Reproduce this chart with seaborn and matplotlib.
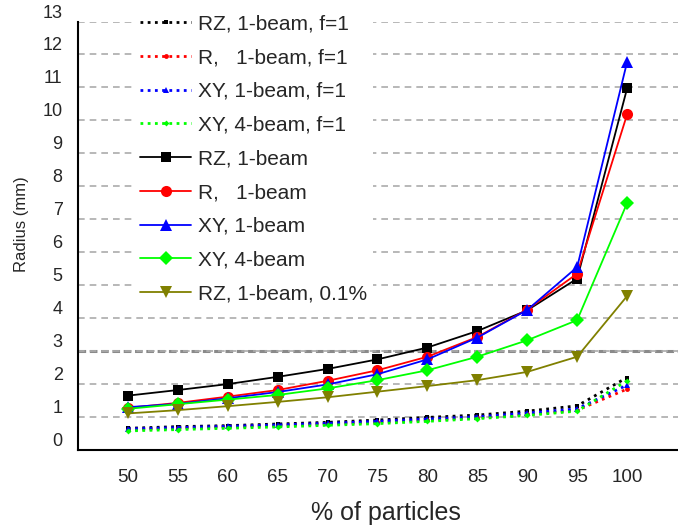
import numpy as np
import matplotlib

matplotlib.use("Agg")
import matplotlib.pyplot as plt
from matplotlib.ticker import MultipleLocator
import seaborn as sns

# values
pct = [50, 55, 60, 65, 70, 75, 80, 85, 90, 95, 100]

rz_f1 = [0.66, 0.71, 0.74, 0.79, 0.84, 0.91, 0.99, 1.06, 1.18, 1.34, 2.20]
r_f1 = [0.62, 0.66, 0.70, 0.74, 0.79, 0.84, 0.91, 0.98, 1.08, 1.21, 1.85]
xy_f1 = [0.64, 0.68, 0.72, 0.76, 0.81, 0.87, 0.94, 1.01, 1.12, 1.25, 1.97]
xy4_f1 = [0.58, 0.62, 0.66, 0.70, 0.75, 0.80, 0.87, 0.95, 1.05, 1.18, 2.10]

rz = [1.65, 1.82, 2.00, 2.22, 2.46, 2.75, 3.11, 3.61, 4.24, 5.20, 10.97]
r = [1.28, 1.43, 1.62, 1.82, 2.10, 2.42, 2.83, 3.43, 4.26, 5.35, 10.18]
xy = [1.30, 1.40, 1.57, 1.76, 1.99, 2.30, 2.75, 3.41, 4.25, 5.55, 11.77]
xy4 = [1.25, 1.39, 1.53, 1.67, 1.87, 2.12, 2.42, 2.83, 3.33, 3.94, 7.49]
rz01 = [1.11, 1.21, 1.33, 1.46, 1.60, 1.77, 1.94, 2.12, 2.37, 2.83, 4.67]

labels = [
    "RZ, 1-beam, f=1",
    "R,   1-beam, f=1",
    "XY, 1-beam, f=1",
    "XY, 4-beam, f=1",
    "RZ, 1-beam",
    "R,   1-beam",
    "XY, 1-beam",
    "XY, 4-beam",
    "RZ, 1-beam, 0.1%",
]

sns.set_style("white")
plt.rcParams["font.family"] = ["Liberation Sans", "DejaVu Sans"]

fig = plt.figure(figsize=(6.78, 5.31), dpi=100)
ax = fig.add_axes([0.115, 0.1525, 0.885, 0.8070])

dotted = (0, (1, 1.6))
series = [
    (rz_f1, "black", "s", 3.5, dotted, 2.0),
    (r_f1, "#ff0000", "o", 3.5, dotted, 2.0),
    (xy_f1, "#0000ff", "^", 4.0, dotted, 2.0),
    (xy4_f1, "#00ff00", "D", 3.0, dotted, 2.0),
    (rz, "black", "s", 7.0, "-", 1.3),
    (r, "#ff0000", "o", 8.0, "-", 1.3),
    (xy, "#0000ff", "^", 8.5, "-", 1.3),
    (xy4, "#00ff00", "D", 7.0, "-", 1.3),
    (rz01, "#808000", "v", 9.0, "-", 1.3),
]

for (vals, col, mk, ms, ls, lw), lab in zip(series, labels):
    sns.lineplot(
        x=pct, y=vals, ax=ax, color=col, marker=mk, markersize=ms,
        markeredgecolor=col, markeredgewidth=0, linestyle=ls,
        linewidth=lw, label=lab,
    )

ax.set_xlim(45, 105.1)
ax.set_ylim(0, 13)
ax.yaxis.set_major_locator(MultipleLocator(1))
ax.set_xticks(pct)
ax.set_xticks(np.arange(47.5, 105.1, 2.5), minor=True)

ax.set_axisbelow(True)
ax.yaxis.grid(True, color="#ababab", linestyle=(0, (4, 3)), linewidth=1.2)
ax.axhline(3, color="#8a8a8a", linestyle=(0, (2.5, 1.2)), linewidth=2.2, zorder=0.5)

for side in ["top", "right"]:
    ax.spines[side].set_visible(False)
for side in ["left", "bottom"]:
    ax.spines[side].set_linewidth(1.5)
    ax.spines[side].set_color("black")

ax.tick_params(axis="both", which="both", direction="in", color="black", width=1.2)
ax.tick_params(axis="y", which="major", length=6.5, pad=11, labelsize=13)
ax.tick_params(axis="x", which="major", length=6.5, pad=14, labelsize=13.5)
ax.tick_params(axis="x", which="minor", length=3.5)
for t in ax.get_yticklabels():
    t.set_verticalalignment("bottom")

ax.set_xlabel("% of particles", fontsize=18)
ax.xaxis.set_label_coords(0.513, -0.12)
ax.set_ylabel("Radius (mm)", fontsize=12)
ax.yaxis.set_label_coords(-0.082, 0.527)

leg = ax.legend(
    loc="upper left", bbox_to_anchor=(0.1976, 0.985),
    bbox_transform=fig.transFigure, fontsize=15, numpoints=1,
    handlelength=2.45, handletextpad=0.3, labelspacing=0.71,
    borderpad=0.3, borderaxespad=0, frameon=True, fancybox=False,
    framealpha=1, facecolor="white", edgecolor="none",
)

fig.savefig("out.png", dpi=100)
plt.close(fig)
